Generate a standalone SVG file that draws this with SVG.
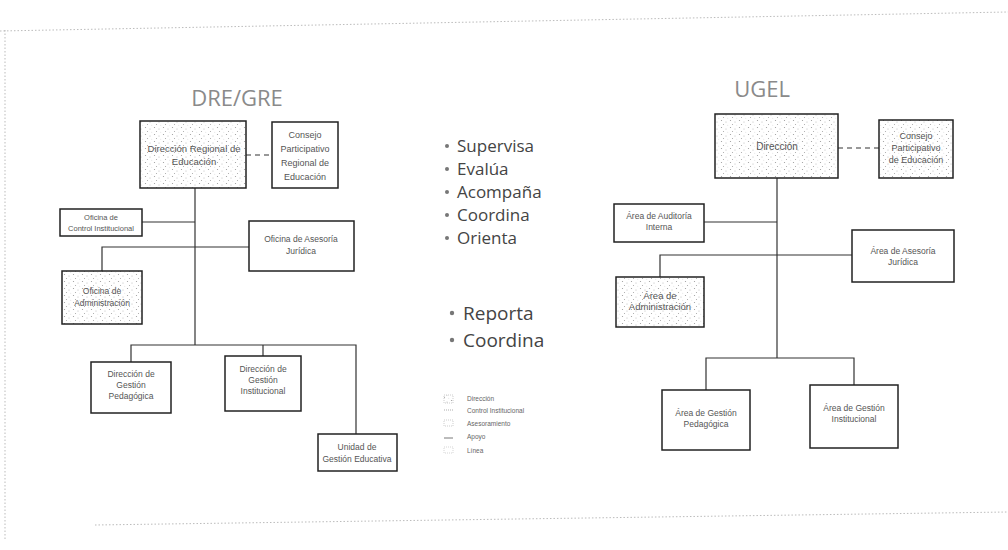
<svg xmlns="http://www.w3.org/2000/svg" width="1008" height="550" viewBox="0 0 1008 550">
<defs>
<pattern id="stip" width="9" height="7" patternUnits="userSpaceOnUse">
<rect width="9" height="7" fill="#ffffff"/>
<circle cx="1.5" cy="1.5" r="0.6" fill="#9a9a9a"/>
<circle cx="6" cy="3" r="0.5" fill="#b0b0b0"/>
<circle cx="3.5" cy="5.5" r="0.55" fill="#a5a5a5"/>
<circle cx="7.8" cy="6.2" r="0.4" fill="#c0c0c0"/>
</pattern>
<style>
.box{fill:#ffffff;stroke:#222;stroke-width:1.5}
.shade{fill:url(#stip);stroke:#222;stroke-width:1.5}
.ln{stroke:#333;stroke-width:1.2;fill:none}
.dash{stroke:#333;stroke-width:1.2;fill:none;stroke-dasharray:5 4}
.t{font-family:"Liberation Sans",Arial,sans-serif;font-size:8.5px;fill:#555;text-anchor:middle}
.title{font-family:"Open Sans","Liberation Sans",sans-serif;font-size:22px;fill:#8a8a8a;text-anchor:middle}
.bl{font-family:"Open Sans","Liberation Sans",sans-serif;font-size:17px;fill:#444}
.bl2{font-family:"Open Sans","Liberation Sans",sans-serif;font-size:19px;fill:#444}
.dot{fill:#777}
.lg{font-family:"Liberation Sans",Arial,sans-serif;font-size:6.5px;fill:#666}
.border{stroke:#aaa;stroke-width:0.8;stroke-dasharray:1.5 2;fill:none}
</style>
</defs>
<rect width="1008" height="550" fill="#ffffff"/>
<g id="page-border">
<path class="border" d="M0 31 L1008 12"/>
<path class="border" d="M5 30 L5 540"/>
<path class="border" d="M95 525 L1008 512"/>
</g>

<g id="titles">
<text class="title" x="237" y="106">DRE/GRE</text>
<text class="title" x="762" y="97">UGEL</text>
</g>

<g id="connectors">
<!-- left -->
<path class="dash" d="M246 155 L272 155"/>
<path class="ln" d="M195 188 L195 345"/>
<path class="ln" d="M142 222 L195 222"/>
<path class="ln" d="M102 271 L102 247 L249 247"/>
<path class="ln" d="M131 362 L131 345 L356 345 L356 434"/>
<path class="ln" d="M263 345 L263 356"/>
<!-- right -->
<path class="dash" d="M838 148 L879 148"/>
<path class="ln" d="M777 178 L777 358"/>
<path class="ln" d="M704 222 L777 222"/>
<path class="ln" d="M660 277 L660 255 L852 255"/>
<path class="ln" d="M706 390 L706 358 L854 358 L854 385"/>
</g>

<g id="dre">
<rect class="shade" x="140" y="121" width="106" height="67"/>
<text class="t" x="194" y="152" style="font-size:9.5px">Dirección Regional de</text>
<text class="t" x="194" y="165" style="font-size:9.5px">Educación</text>
</g>
<g id="copare">
<rect class="box" x="272" y="122" width="66" height="66"/>
<text class="t" x="305" y="138" style="font-size:9px">Consejo</text>
<text class="t" x="305" y="152" style="font-size:9px">Participativo</text>
<text class="t" x="305" y="166" style="font-size:9px">Regional de</text>
<text class="t" x="305" y="180" style="font-size:9px">Educación</text>
</g>
<g id="oci">
<rect class="box" x="60" y="209" width="82" height="27"/>
<text class="t" x="101" y="220" style="font-size:7.5px">Oficina de</text>
<text class="t" x="101" y="231" style="font-size:7.5px">Control Institucional</text>
</g>
<g id="oaj">
<rect class="box" x="249" y="221" width="105" height="50"/>
<text class="t" x="301" y="242">Oficina de Asesoría</text>
<text class="t" x="301" y="254">Jurídica</text>
</g>
<g id="oa">
<rect class="shade" x="62" y="271" width="80" height="53"/>
<text class="t" x="102" y="294">Oficina de</text>
<text class="t" x="102" y="306">Administración</text>
</g>
<g id="dgp">
<rect class="box" x="91" y="362" width="80" height="51"/>
<text class="t" x="131" y="377">Dirección de</text>
<text class="t" x="131" y="388">Gestión</text>
<text class="t" x="131" y="399">Pedagógica</text>
</g>
<g id="dgi">
<rect class="box" x="225" y="356" width="76" height="55"/>
<text class="t" x="263" y="372">Dirección de</text>
<text class="t" x="263" y="383">Gestión</text>
<text class="t" x="263" y="394">Institucional</text>
</g>
<g id="ugel-box">
<rect class="box" x="318" y="434" width="79" height="37"/>
<text class="t" x="357" y="450">Unidad de</text>
<text class="t" x="357" y="462">Gestión Educativa</text>
</g>

<g id="bullets1">
<circle class="dot" cx="447" cy="146" r="2"/>
<text class="bl" x="457" y="152">Supervisa</text>
<circle class="dot" cx="447" cy="169" r="2"/>
<text class="bl" x="457" y="175">Evalúa</text>
<circle class="dot" cx="447" cy="192" r="2"/>
<text class="bl" x="457" y="198">Acompaña</text>
<circle class="dot" cx="447" cy="215" r="2"/>
<text class="bl" x="457" y="221">Coordina</text>
<circle class="dot" cx="447" cy="238" r="2"/>
<text class="bl" x="457" y="244">Orienta</text>
</g>
<g id="bullets2">
<circle class="dot" cx="452" cy="313" r="2.2"/>
<text class="bl2" x="463" y="320">Reporta</text>
<circle class="dot" cx="452" cy="340" r="2.2"/>
<text class="bl2" x="463" y="347">Coordina</text>
</g>

<g id="legend">
<rect x="444" y="395" width="9" height="8" fill="url(#stip)" stroke="#999" stroke-width="0.5" stroke-dasharray="1 1"/>
<text class="lg" x="467" y="401">Dirección</text>
<path d="M444 410 L453 410" stroke="#777" stroke-width="0.6" stroke-dasharray="1 1"/>
<text class="lg" x="467" y="413">Control Institucional</text>
<rect x="444" y="420" width="9" height="6" fill="none" stroke="#999" stroke-width="0.5" stroke-dasharray="1 1"/>
<text class="lg" x="467" y="426">Asesoramiento</text>
<path d="M444 438 L453 438" stroke="#555" stroke-width="0.8"/>
<text class="lg" x="467" y="439">Apoyo</text>
<rect x="444" y="447" width="9" height="6" fill="none" stroke="#aaa" stroke-width="0.5" stroke-dasharray="1 1"/>
<text class="lg" x="467" y="453">Línea</text>
</g>

<g id="u-direccion">
<rect class="shade" x="715" y="114" width="123" height="64"/>
<text class="t" x="777" y="150" style="font-size:10px">Dirección</text>
</g>
<g id="u-copale">
<rect class="shade" x="879" y="120" width="74" height="58"/>
<text class="t" x="916" y="139" style="font-size:9px">Consejo</text>
<text class="t" x="916" y="151" style="font-size:9px">Participativo</text>
<text class="t" x="916" y="163" style="font-size:9px">de Educación</text>
</g>
<g id="u-oai">
<rect class="box" x="614" y="204" width="90" height="38"/>
<text class="t" x="659" y="219">Área de Auditoría</text>
<text class="t" x="659" y="230">Interna</text>
</g>
<g id="u-oaj">
<rect class="box" x="852" y="230" width="102" height="52"/>
<text class="t" x="903" y="254">Área de Asesoría</text>
<text class="t" x="903" y="265">Jurídica</text>
</g>
<g id="u-oa">
<rect class="shade" x="616" y="277" width="88" height="50"/>
<text class="t" x="660" y="299" style="font-size:9.5px">Área de</text>
<text class="t" x="660" y="310" style="font-size:9.5px">Administración</text>
</g>
<g id="u-agp">
<rect class="box" x="662" y="390" width="88" height="60"/>
<text class="t" x="706" y="416">Área de Gestión</text>
<text class="t" x="706" y="427">Pedagógica</text>
</g>
<g id="u-agi">
<rect class="box" x="810" y="385" width="88" height="63"/>
<text class="t" x="854" y="411">Área de Gestión</text>
<text class="t" x="854" y="422">Institucional</text>
</g>
</svg>
